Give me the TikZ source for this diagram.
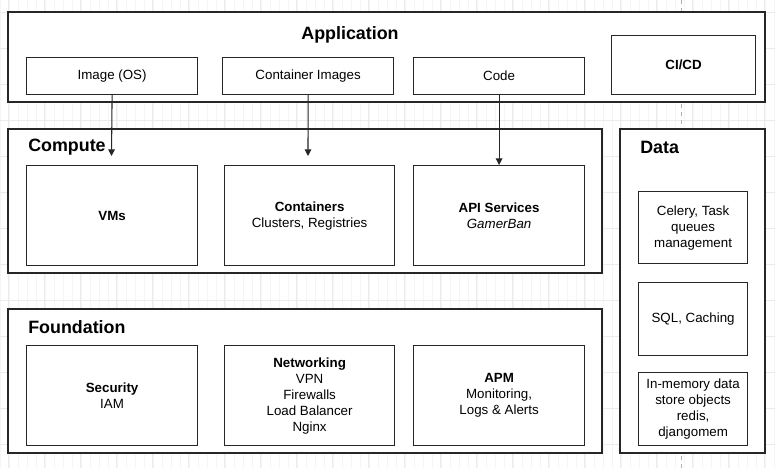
\documentclass[tikz,border=0pt]{standalone}
\usepackage{fontspec}
\setmainfont{Liberation Sans}
\usetikzlibrary{arrows.meta}
\begin{document}
\begin{tikzpicture}[x=0.75pt,y=-0.75pt,
  box/.style={draw=black!85,line width=0.9pt,fill=white,anchor=north west,inner sep=0pt,align=center,font=\fontsize{10}{12}\selectfont},
  outer/.style={draw=black!85,line width=0.9pt,fill=white},
  title/.style={font=\fontsize{13.4}{15}\selectfont\bfseries,anchor=west,inner sep=0pt},
  arr/.style={draw=black!85,line width=0.8pt,-{Triangle[length=5pt,width=5pt]}}]
\useasboundingbox (0,0) rectangle (775,468);
\fill[white] (0,0) rectangle (775,468);
% grid
\draw[black!4,line width=0.4pt] (-1,0) grid[step=9] (775,468);
\foreach \x in {8,44,...,775} \draw[black!8,line width=0.5pt] (\x,0) -- (\x,468);
\foreach \y in {12,48,...,468} \draw[black!8,line width=0.5pt] (0,\y) -- (775,\y);
\draw[black!30,dashed,line width=0.5pt] (681,0) -- (681,468);
% outer containers
\draw[outer] (8,12) rectangle (765,102);
\draw[outer] (8,129) rectangle (602,273);
\draw[outer] (8,309) rectangle (602,453);
\draw[outer] (620,129) rectangle (765,453);
\node[font=\fontsize{13.4}{15}\selectfont\bfseries] (apptitle) at (350,34.5) {Application};
\node[title] (comptitle) at (28,147.5) {Compute};
\node[title] (foundtitle) at (28,327.5) {Foundation};
\node[title] (datatitle) at (640,147.5) {Data};
% application row
\node[box,minimum width=171*0.75pt,minimum height=37*0.75pt] (img) at (26,57) {Image (OS)};
\node[box,minimum width=171*0.75pt,minimum height=37*0.75pt] (cimg) at (222,57) {Container Images};
\node[box,minimum width=171*0.75pt,minimum height=37*0.75pt] (code) at (413,57) {Code};
\node[box,minimum width=144*0.75pt,minimum height=59*0.75pt,font=\fontsize{10}{12}\selectfont\bfseries] (cicd) at (611,35) {CI/CD};
% compute row
\node[box,minimum width=171*0.75pt,minimum height=100*0.75pt] (vms) at (26,165) {\textbf{VMs}};
\node[box,minimum width=170*0.75pt,minimum height=100*0.75pt] (cont) at (224,165) {\textbf{Containers}\\Clusters, Registries};
\node[box,minimum width=171*0.75pt,minimum height=100*0.75pt] (api) at (413,165) {\textbf{API Services}\\\textit{GamerBan}};
% foundation row
\node[box,minimum width=171*0.75pt,minimum height=100*0.75pt] (sec) at (26,345) {\textbf{Security}\\IAM};
\node[box,minimum width=170*0.75pt,minimum height=100*0.75pt] (net) at (224,345) {\textbf{Networking}\\VPN\\Firewalls\\Load Balancer\\Nginx};
\node[box,minimum width=171*0.75pt,minimum height=100*0.75pt] (apm) at (413,345) {\textbf{APM}\\Monitoring,\\Logs \& Alerts};
% data column
\node[box,minimum width=109*0.75pt,minimum height=72*0.75pt] (celery) at (638,191) {Celery, Task\\queues\\management};
\node[box,minimum width=109*0.75pt,minimum height=73*0.75pt] (sql) at (638,282) {SQL, Caching};
\node[box,minimum width=109*0.75pt,minimum height=73*0.75pt] (mem) at (638,372) {In-memory data\\store objects\\redis,\\djangomem};
% arrows
\coordinate (e1) at (111.5,156);
\coordinate (e2) at (308,156);
\draw[arr] (img.south) -- (e1);
\draw[arr] (cimg.south) -- (e2);
\draw[arr] (code.south) -- (api.north);
\end{tikzpicture}
\end{document}
